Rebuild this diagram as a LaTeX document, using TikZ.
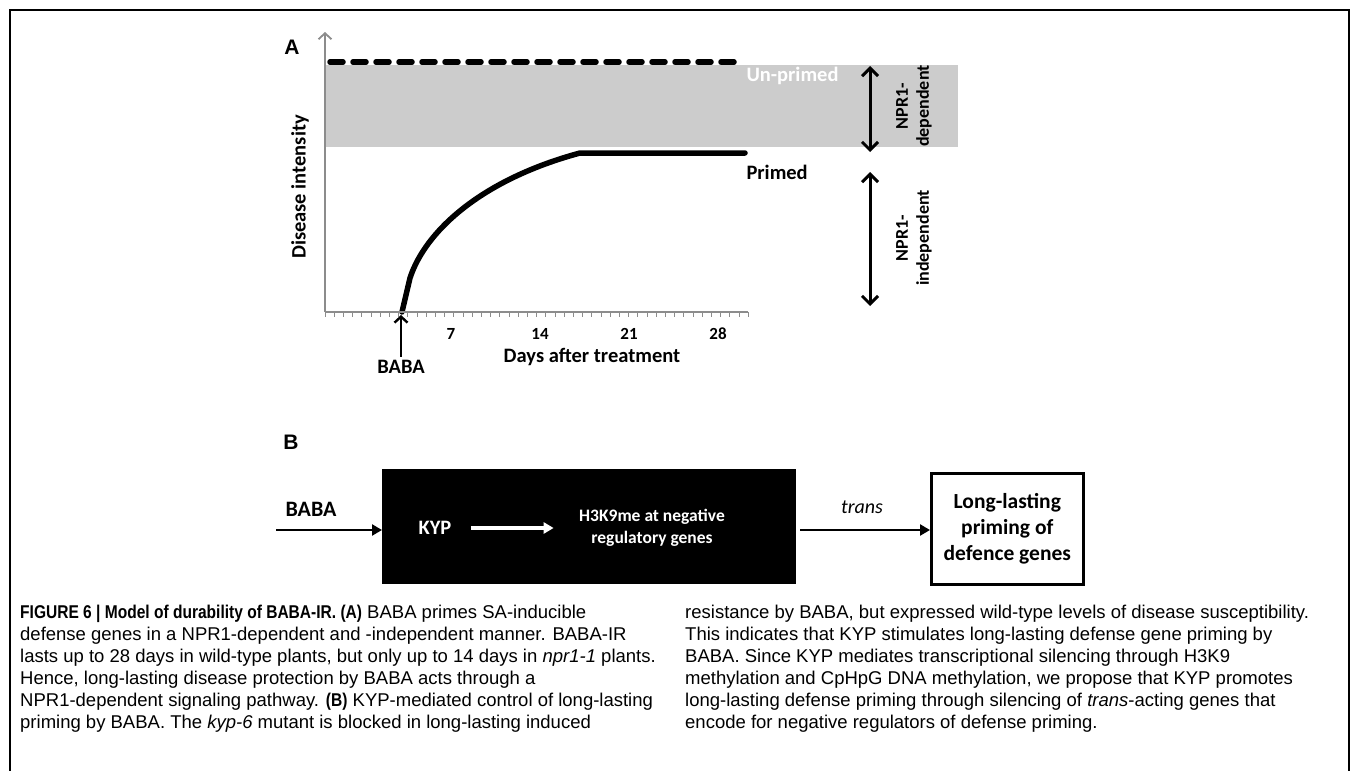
\documentclass[tikz,border=0pt]{standalone}
\usepackage{fontspec}
\setmainfont{Liberation Sans}
\newfontfamily\figfont{Carlito}
\newfontfamily\capfont{Liberation Sans}
\newfontfamily\capcond[FakeStretch=0.84]{Liberation Sans}
\usetikzlibrary{arrows.meta}

\begin{document}
\begin{tikzpicture}[x=1pt,y=-1pt,
    panel/.style={font=\fontsize{21}{21}\selectfont\bfseries},
    lbl/.style={font=\figfont\fontsize{20.5}{20.5}\selectfont\bfseries},
    small/.style={font=\figfont\fontsize{18}{21}\selectfont\bfseries,align=center},
    axis/.style={line width=1.8pt,black!45},
    tick/.style={line width=0.9pt,black!45},
    band/.style={fill=black!20},
    unprimed/.style={line width=5.5pt,dash pattern=on 13pt off 10pt,line cap=round},
    primed/.style={line width=5.5pt,line cap=round},
    npr/.style={{Straight Barb[length=8pt,width=16pt]}-{Straight Barb[length=8pt,width=16pt]},line width=3pt},
    flow/.style={-{Triangle[length=10pt,width=11pt]},line width=2.4pt},
    blackbox/.style={fill=black,draw=black,minimum width=413pt,minimum height=114pt},
    outbox/.style={draw,line width=2.6pt,minimum width=152pt,minimum height=111pt,align=center,
        font=\figfont\fontsize{21.5}{26}\selectfont\bfseries},
    caption/.style={anchor=north west,align=left,inner sep=0pt,font=\capfont\fontsize{18.5}{22}\selectfont}
]
\useasboundingbox (0,0) rectangle (1353,771);
% frame
\draw[line width=1.4pt] (10,771) -- (10,10) -- (1349,10) -- (1349,771);

%%% A: disease intensity over time
\node[panel] (pa) at (292,47) {A};
\fill[band] (325,65) rectangle (958,147);
\draw[unprimed] (330,62) -- (738,62);
\node[lbl,white,anchor=west] (unp) at (743,76) {Un-primed};
\draw[primed] (402,312) -- (410,278) .. controls (425,232) and (480,180) .. (580,153) -- (745,153);
\node[lbl,anchor=west] (prm) at (743,172) {Primed};
% axes
\draw[axis,-{Straight Barb[length=6pt,width=13pt]}] (325,312) -- (325,32);
\draw[axis] (325,312) -- (748,312);
\foreach \i in {0,...,46}
  \draw[tick] (325+\i*9.2,312) -- ++(0,4.5);
\foreach \d/\x in {7/451,14/540,21/629,28/718}
  \node[small,font=\figfont\fontsize{17}{17}\selectfont\bfseries] (t\d) at (\x,334) {\d};
\node[lbl,rotate=90] (yl) at (300,187) {Disease intensity};
\node[lbl] (xl) at (592,357) {Days after treatment};
% BABA treatment
\node[lbl] (baba) at (401,367) {BABA};
\draw[-{Straight Barb[length=6pt,width=13pt]},line width=2.4pt] (baba.north) -- (401,315);
% NPR1 arrows
\coordinate (d1) at (870,66);
\coordinate (d2) at (870,152);
\coordinate (i1) at (870,172);
\coordinate (i2) at (870,306);
\draw[npr] (d1) -- (d2);
\draw[npr] (i1) -- (i2);
\node[small,rotate=90] (dep) at (914,106) {NPR1-\\dependent};
\node[small,rotate=90] (indep) at (914,238) {NPR1-\\independent};

%%% B: KYP model
\node[panel] (pb) at (291,442) {B};
\node[blackbox,anchor=north west] (kypbox) at (382,469) {};
\node[lbl,white] (kyp) at (435,528) {KYP};
\node[lbl,white,align=center,font=\figfont\fontsize{17.5}{22}\selectfont\bfseries] (h3k) at (652,528) {H3K9me at negative\\regulatory genes};
\draw[flow,white,line width=3.4pt] ([xshift=16pt]kyp.east) -- ([xshift=-22pt]h3k.west);
\coordinate (bstart) at (276,530);
\draw[flow] (bstart) -- (kypbox.west |- bstart);
\node[lbl,font=\figfont\fontsize{22}{22}\selectfont\bfseries] (bb) at (311,509) {BABA};
\node[outbox,anchor=north west] (ltp) at (930,472) {Long-lasting\\priming of\\defence genes};
\draw[flow] ([xshift=5pt]kypbox.east |- bstart) -- (ltp.west |- bstart);
\node[lbl,font=\figfont\fontsize{20}{20}\selectfont\itshape] (tr) at (862,507) {trans};

%%% caption
\node[caption] (capl) at (20,605)
{{\capcond\bfseries FIGURE 6 | Model of durability of BABA-IR. (A)} BABA primes SA-inducible\\
defense genes in a NPR1-dependent and -independent manner. BABA-IR\\
lasts up to 28 days in wild-type plants, but only up to 14 days in \textit{npr1-1} plants.\\
Hence, long-lasting disease protection by BABA acts through a\\
NPR1-dependent signaling pathway. {\capcond\bfseries (B)} KYP-mediated control of long-lasting\\
priming by BABA. The \textit{kyp-6} mutant is blocked in long-lasting induced};
\node[caption] (capr) at (685,605)
{resistance by BABA, but expressed wild-type levels of disease susceptibility.\\
This indicates that KYP stimulates long-lasting defense gene priming by\\
BABA. Since KYP mediates transcriptional silencing through H3K9\\
methylation and CpHpG DNA methylation, we propose that KYP promotes\\
long-lasting defense priming through silencing of \textit{trans}-acting genes that\\
encode for negative regulators of defense priming.};
\end{tikzpicture}
\end{document}
